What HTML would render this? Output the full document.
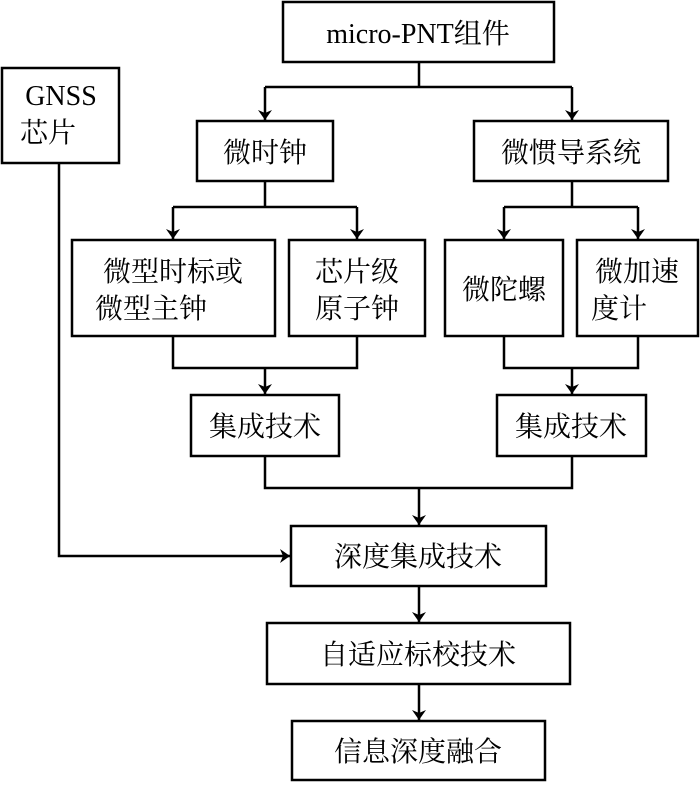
<!DOCTYPE html>
<html><head><meta charset="utf-8"><style>
html,body{margin:0;padding:0;background:#fff;}
svg text{font-family:"Liberation Serif","Noto Serif CJK SC",serif;font-size:28px;fill:#000;}
</style></head><body>
<svg width="700" height="782" viewBox="0 0 700 782" xmlns="http://www.w3.org/2000/svg">
<defs><marker id="a" markerWidth="10" markerHeight="14" refX="10" refY="7" orient="auto" markerUnits="userSpaceOnUse"><path d="M0,0 L10,7 L0,14 L3,7 Z" fill="#000"/></marker></defs>
<g fill="none" stroke="#000" stroke-width="2.5">
<rect x="283" y="2" width="271" height="60"/>
<rect x="2" y="68" width="117" height="95"/>
<rect x="197" y="121" width="136" height="60"/>
<rect x="474" y="121" width="194" height="60"/>
<rect x="72" y="240" width="203" height="96"/>
<rect x="289" y="240" width="136" height="96"/>
<rect x="445" y="240" width="118" height="96"/>
<rect x="577" y="240" width="121" height="96"/>
<rect x="191" y="395" width="148" height="61"/>
<rect x="497" y="395" width="149" height="61"/>
<rect x="291" y="526" width="255" height="60"/>
<rect x="267" y="623" width="303" height="61"/>
<rect x="292" y="721" width="253" height="59"/>
<path d="M419,62 V87 M265,87 H572"/>
<path d="M265,87 V120" marker-end="url(#a)"/>
<path d="M572,87 V120" marker-end="url(#a)"/>
<path d="M265,181 V207 M173,207 H357"/>
<path d="M173,207 V239" marker-end="url(#a)"/>
<path d="M357,207 V239" marker-end="url(#a)"/>
<path d="M572,181 V207 M504,207 H638"/>
<path d="M504,207 V239" marker-end="url(#a)"/>
<path d="M638,207 V239" marker-end="url(#a)"/>
<path d="M173,336 V368 H357 V336"/>
<path d="M265,368 V394" marker-end="url(#a)"/>
<path d="M504,336 V368 H638 V336"/>
<path d="M572,368 V394" marker-end="url(#a)"/>
<path d="M265,456 V488 H572 V456"/>
<path d="M419,488 V525" marker-end="url(#a)"/>
<path d="M59,163 V556 H290" marker-end="url(#a)"/>
<path d="M419,586 V622" marker-end="url(#a)"/>
<path d="M419,684 V720" marker-end="url(#a)"/>
</g>
<g text-anchor="middle">
<text x="418" y="43">micro-PNT组件</text>
<text x="61" y="105">GNSS</text>
<text x="48" y="142">芯片</text>
<text x="265" y="162">微时钟</text>
<text x="571" y="162">微惯导系统</text>
<text x="173" y="281">微型时标或</text>
<text x="151" y="318">微型主钟</text>
<text x="357" y="281">芯片级</text>
<text x="357" y="318">原子钟</text>
<text x="504" y="299">微陀螺</text>
<text x="637" y="281">微加速</text>
<text x="619" y="318">度计</text>
<text x="265" y="436">集成技术</text>
<text x="571" y="436">集成技术</text>
<text x="418" y="566">深度集成技术</text>
<text x="418" y="664">自适应标校技术</text>
<text x="418" y="761">信息深度融合</text>
</g>
</svg>
</body></html>
